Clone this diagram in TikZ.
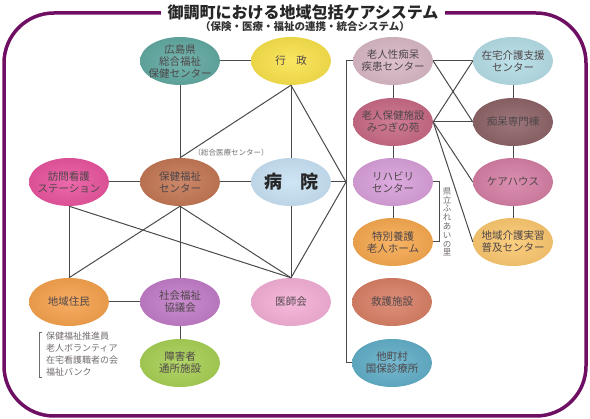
\documentclass[tikz,border=0pt]{standalone}
\usepackage{fontspec}
\setmainfont{Noto Sans CJK JP}
\usetikzlibrary{shapes.geometric}
\definecolor{framec}{HTML}{6E0F63}
\definecolor{linec}{HTML}{4A4A4A}
\definecolor{txtc}{HTML}{4F4649}
\definecolor{cHiro}{HTML}{62AAA2}
\definecolor{cGyosei}{HTML}{F9E24C}
\definecolor{cRoujin}{HTML}{D9B8C6}
\definecolor{cZaitaku}{HTML}{B5DDE6}
\definecolor{cMitsugi}{HTML}{C86A85}
\definecolor{cChiho}{HTML}{8E6468}
\definecolor{cRiha}{HTML}{D8A0DA}
\definecolor{cCare}{HTML}{D57FA5}
\definecolor{cToku}{HTML}{F6A950}
\definecolor{cFukyu}{HTML}{FBC870}
\definecolor{cKyugo}{HTML}{D98067}
\definecolor{cTacho}{HTML}{62AFC8}
\definecolor{cHoumon}{HTML}{E9559F}
\definecolor{cHoken}{HTML}{C47855}
\definecolor{cByoin}{HTML}{C8E2F4}
\definecolor{cChiiki}{HTML}{F6A24E}
\definecolor{cShakyo}{HTML}{C27DC8}
\definecolor{cIshi}{HTML}{F4AFD6}
\definecolor{cShogai}{HTML}{A8D055}
\tikzset{
  bub/.style={ellipse, draw=none, shading=radial, inner color=#1!88!white, outer color=#1!94!black, minimum width=80pt, minimum height=48pt, inner sep=0pt},
  txt/.style={align=center, text=txtc, font=\fontsize{10.5}{12}\selectfont, inner sep=0pt},
  conn/.style={draw=linec, line width=1pt},
  frm/.style={draw=framec, line width=3.5pt, rounded corners=50pt},
  note/.style={text=txtc!80, inner sep=0pt}
}
\begin{document}
\begin{tikzpicture}[x=1pt,y=-1pt]
\useasboundingbox (0,0) rectangle (590,419);
\draw[frm] (4,13) rectangle (586,416);
\node[fill=white, inner xsep=7pt, inner ysep=1pt, text=black!85, font=\bfseries\fontsize{16}{16}\selectfont] (title) at (303,12) {御調町における地域包括ケアシステム};
\node[text=black!80, font=\bfseries\fontsize{10.5}{11}\selectfont] (sub) at (305,27) {（保険・医療・福祉の連携・統合システム）};

% left block
\node[bub=cHiro, label={[txt]center:{広島県\\総合福祉\\保健センター}}] (hiro) at (180,61) {};
\node[bub=cGyosei, label={[txt]center:{行\hspace{1em}政}}] (gyosei) at (291,61) {};
\node[bub=cHoumon, label={[txt]center:{訪問看護\\ステーション}}] (houmon) at (69,182) {};
\node[bub=cHoken, label={[txt]center:{保健福祉\\センター}}] (hoken) at (180,182) {};
\node[bub=cByoin, label={[txt, text=black!85, font=\bfseries\fontsize{18}{18}\selectfont]center:{病\hspace{1em}院}}] (byoin) at (291,182) {};
\node[bub=cChiiki, label={[txt]center:{地域住民}}] (chiiki) at (69,302) {};
\node[bub=cShakyo, label={[txt]center:{社会福祉\\協議会}}] (shakyo) at (180,302) {};
\node[bub=cIshi, label={[txt]center:{医師会}}] (ishi) at (291,302) {};
\node[bub=cShogai, label={[txt]center:{障害者\\通所施設}}] (shogai) at (180,363) {};

% right block
\node[bub=cRoujin, label={[txt]center:{老人性痴呆\\疾患センター}}] (roujin) at (393,61) {};
\node[bub=cZaitaku, label={[txt]center:{在宅介護支援\\センター}}] (zaitaku) at (513,61) {};
\node[bub=cMitsugi, label={[txt]center:{老人保健施設\\みつぎの苑}}] (mitsugi) at (393,122) {};
\node[bub=cChiho, label={[txt]center:{痴呆専門棟}}] (chiho) at (513,122) {};
\node[bub=cRiha, label={[txt]center:{リハビリ\\センター}}] (riha) at (393,182) {};
\node[bub=cCare, label={[txt]center:{ケアハウス}}] (care) at (513,182) {};
\node[bub=cToku, label={[txt]center:{特別養護\\老人ホーム}}] (toku) at (393,242) {};
\node[bub=cFukyu, label={[txt]center:{地域介護実習\\普及センター}}] (fukyu) at (513,242) {};
\node[bub=cKyugo, label={[txt]center:{救護施設}}] (kyugo) at (392,302) {};
\node[bub=cTacho, label={[txt]center:{他町村\\国保診療所}}] (tacho) at (392,363) {};

% coordinates
\coordinate (J) at (346,182);
\coordinate (bt) at (346,61);
\coordinate (bb) at (346,363);
\coordinate (br1) at (439,182);
\coordinate (br2) at (439,242);

% connectors left
\draw[conn] (hiro) -- (gyosei);
\draw[conn] (hiro) -- (hoken);
\draw[conn] (gyosei.south) -- (hoken.north);
\draw[conn] (gyosei.south) -- (byoin.north);
\draw[conn] (gyosei.south) -- (J);
\draw[conn] (byoin.east) -- (J);
\draw[conn] (ishi.north) -- (J);
\draw[conn] (houmon) -- (hoken);
\draw[conn] (hoken) -- (byoin);
\draw[conn] (houmon.south) -- (chiiki.north);
\draw[conn] (houmon.south) -- (ishi.north);
\draw[conn] (hoken.south) -- (chiiki.north);
\draw[conn] (hoken.south) -- (shakyo.north);
\draw[conn] (hoken.south) -- (ishi.north);
\draw[conn] (byoin.south) -- (ishi.north);
\draw[conn] (chiiki) -- (shakyo);
\draw[conn] (shakyo) -- (shogai);
% bus
\draw[conn] (roujin.west) -- (bt) -- (bb) -- (tacho.west);
% right
\draw[conn] (roujin) -- (mitsugi);
\draw[conn] (mitsugi) -- (riha);
\draw[conn] (riha) -- (toku);
\draw[conn] (zaitaku) -- (chiho);
\draw[conn] (chiho) -- (care);
\draw[conn] (care) -- (fukyu);
\draw[conn] (roujin.east) -- (zaitaku.west);
\draw[conn] (roujin.east) -- (chiho.west);
\draw[conn] (mitsugi.east) -- (zaitaku.west);
\draw[conn] (mitsugi.east) -- (chiho.west);
\draw[conn] (mitsugi.east) -- (care.west);
\draw[conn] (mitsugi.east) -- (fukyu.west);
\draw[conn] (riha.east) -- (br1) -- (br2) -- (toku.east);

% notes
\node[note, font=\fontsize{7.5}{8}\selectfont] (sogo) at (231,153) {（総合医療センター）};
\node[note, align=center, font=\fontsize{8.5}{8.8}\selectfont] (fureai) at (447,222) {県\\立\\ふ\\れ\\あ\\い\\の\\里};
\coordinate (lb1) at (42,332);
\coordinate (lb2) at (39,332);
\coordinate (lb3) at (39,377);
\coordinate (lb4) at (42,377);
\draw[draw=txtc!80, line width=0.9pt] (lb1) -- (lb2) -- (lb3) -- (lb4);
\node[note, align=left, anchor=north west, font=\fontsize{9}{12}\selectfont] (list) at (46,332) {保健福祉推進員\\老人ボランティア\\在宅看護職者の会\\福祉バンク};
\end{tikzpicture}
\end{document}
